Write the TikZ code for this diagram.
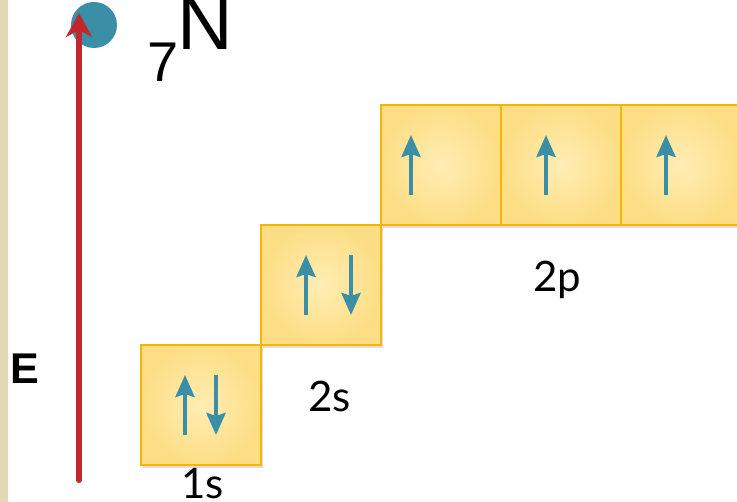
\documentclass[tikz,border=0pt]{standalone}
\usepackage{fontspec}
\newfontfamily\labelfont{Lato}
\newfontfamily\symfont{Liberation Sans}
\usetikzlibrary{arrows.meta,positioning,shadows}
\definecolor{orbfill}{HTML}{FDDE85}
\definecolor{orbcore}{HTML}{FFEDB4}
\definecolor{orbline}{HTML}{F8B400}
\definecolor{spincol}{HTML}{3A8FA6}
\definecolor{axisred}{HTML}{C0282E}
\definecolor{strip}{HTML}{E3D8B5}
\tikzset{
  orbital/.style={draw=orbline,line width=2.5pt,minimum size=120pt,inner sep=0pt,outer sep=0pt,
    shading=radial,inner color=orbcore,outer color=orbfill,
    drop shadow={shadow xshift=2pt,shadow yshift=-3pt,opacity=.25}},
  spin/.style={spincol,line width=4pt,-{Stealth[length=22pt,width=19pt,inset=3pt]}},
  lbl/.style={font=\labelfont\fontsize{42}{44}\selectfont,anchor=base west,inner sep=0pt}
}
\begin{document}
\begin{tikzpicture}[x=1pt,y=-1pt]
  \useasboundingbox (0,0) rectangle (737,502);
  \fill[strip] (0,0) rectangle (8,502);
  \draw[white!85!strip] (8.5,0) -- (8.5,502);
  % energy axis
  \fill[spincol] (94,25) circle (23);
  \coordinate (elow) at (79,480);
  \coordinate (ehigh) at (79,13);
  \draw[axisred,line width=6pt,line cap=round,-{Stealth[length=24pt,width=26pt,inset=7pt]}] (elow) -- (ehigh);
  \node[font=\symfont\bfseries\fontsize{43}{45}\selectfont,anchor=base west,inner sep=0pt] (eaxis) at (10,384) {E};
  \node[font=\symfont\fontsize{56}{58}\selectfont,anchor=base west,inner sep=0pt] (znum) at (147,82) {7};
  \node[font=\symfont\fontsize{77}{79}\selectfont,anchor=base west,inner sep=0pt] (elem) at (177,50) {N};
  % orbital boxes
  \node[orbital] (o1s) at (201,405) {};
  \node[orbital,above right=0pt of o1s] (o2s) {};
  \node[orbital,above right=0pt of o2s] (o2px) {};
  \node[orbital,right=0pt of o2px] (o2py) {};
  \node[orbital,right=0pt of o2py] (o2pz) {};
  % electrons
  \draw[spin] ([xshift=-16pt,yshift=-30pt]o1s.center) -- ([xshift=-16pt,yshift=30pt]o1s.center);
  \draw[spin] ([xshift=15pt,yshift=30pt]o1s.center) -- ([xshift=15pt,yshift=-30pt]o1s.center);
  \draw[spin] ([xshift=-15pt,yshift=-30pt]o2s.center) -- ([xshift=-15pt,yshift=30pt]o2s.center);
  \draw[spin] ([xshift=30pt,yshift=30pt]o2s.center) -- ([xshift=30pt,yshift=-30pt]o2s.center);
  \draw[spin] ([xshift=-30pt,yshift=-30pt]o2px.center) -- ([xshift=-30pt,yshift=30pt]o2px.center);
  \draw[spin] ([xshift=-15pt,yshift=-30pt]o2py.center) -- ([xshift=-15pt,yshift=30pt]o2py.center);
  \draw[spin] ([xshift=-15pt,yshift=-30pt]o2pz.center) -- ([xshift=-15pt,yshift=30pt]o2pz.center);
  \node[lbl] (l1s) at (181,499) {1s};
  \node[lbl] (l2s) at (308,412) {2s};
  \node[lbl] (l2p) at (533,292) {2p};
\end{tikzpicture}
\end{document}
